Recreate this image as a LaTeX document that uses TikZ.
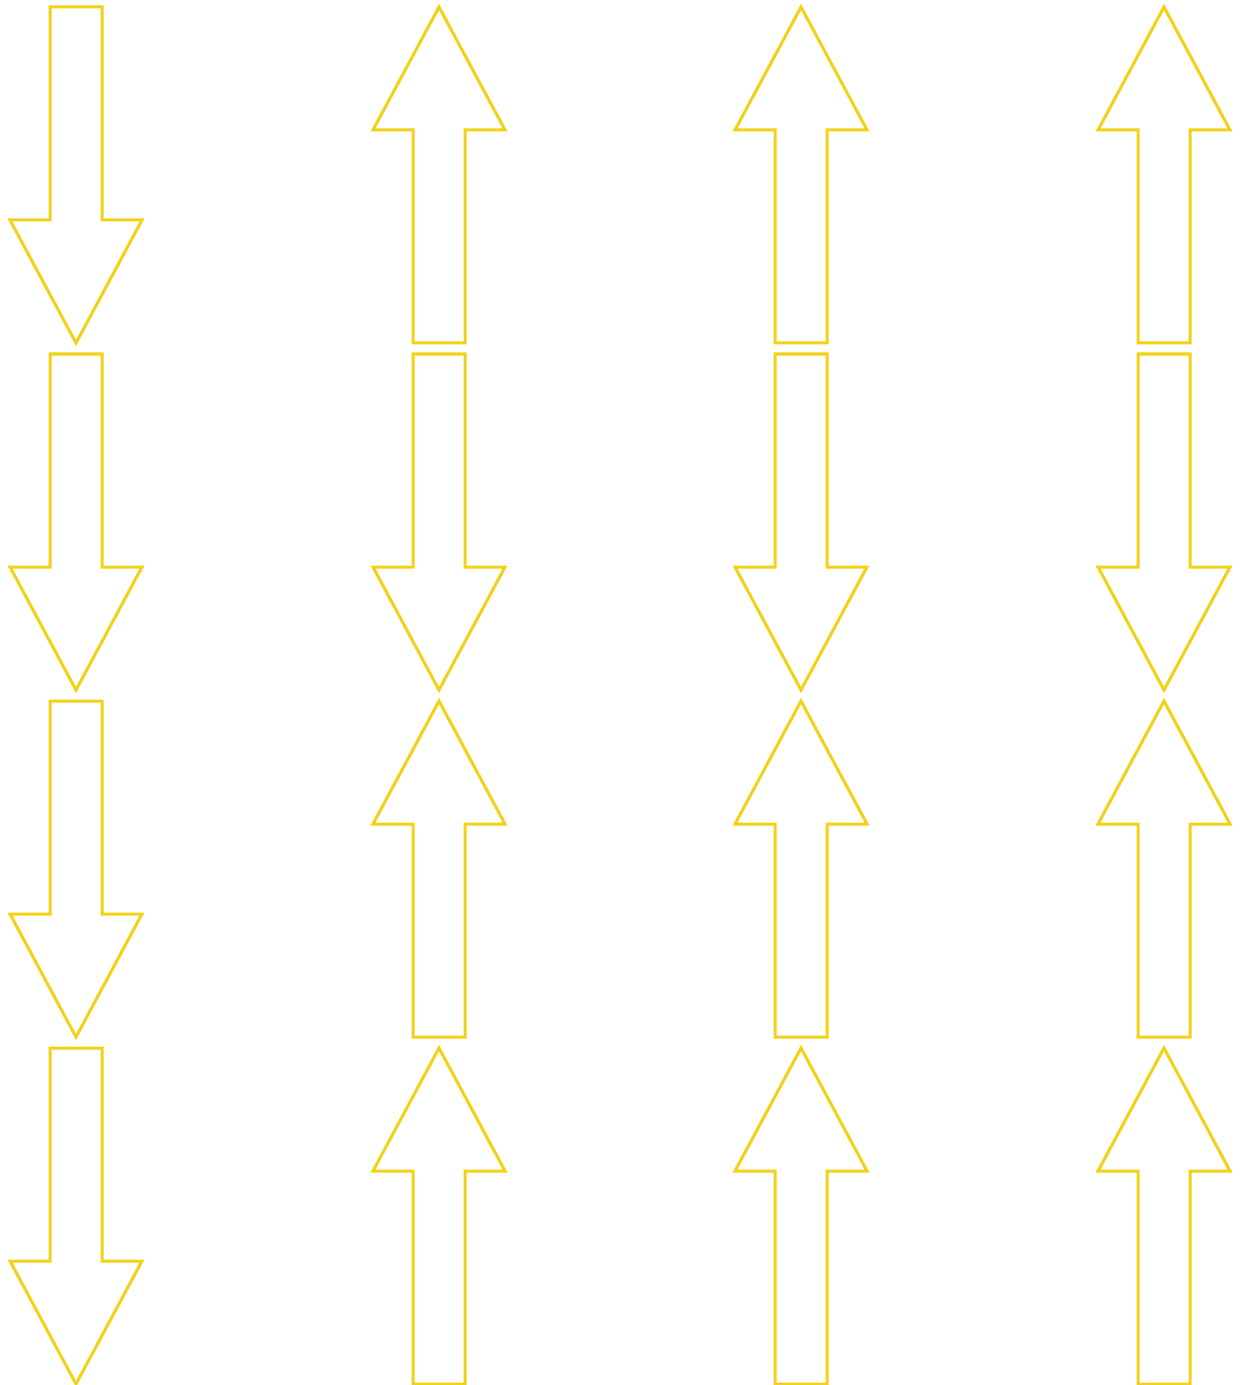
\documentclass[tikz,border=0pt]{standalone}
\usepackage{tikz}
\definecolor{arrowgold}{RGB}{243,210,22}
\tikzset{
  blockln/.style   = {draw=arrowgold, line width=1.5pt, line join=miter},
  arrdown/.pic = {
    \draw[blockln] (-26,0) -- (26,0) -- (26,213) -- (66,213) -- (0,336)
                   -- (-66,213) -- (-26,213) -- cycle;
  },
  arrup/.pic = {
    \draw[blockln] (0,0) -- (66,123) -- (26,123) -- (26,336) -- (-26,336)
                   -- (-26,123) -- (-66,123) -- cycle;
  }
}

\begin{document}
\begin{tikzpicture}[x=0.5pt,y=-0.5pt]
  \useasboundingbox (0,0) rectangle (1239,1385);
  % left column, all pointing down
  \foreach \ytop in {7,354,701,1048}
    \pic at (76,\ytop) {arrdown};
  % other columns: up, down, up, up
  \foreach \xc in {439,801,1164} {
    \pic at (\xc,7)    {arrup};
    \pic at (\xc,354)  {arrdown};
    \pic at (\xc,701)  {arrup};
    \pic at (\xc,1048) {arrup};
  }
\end{tikzpicture}
\end{document}
